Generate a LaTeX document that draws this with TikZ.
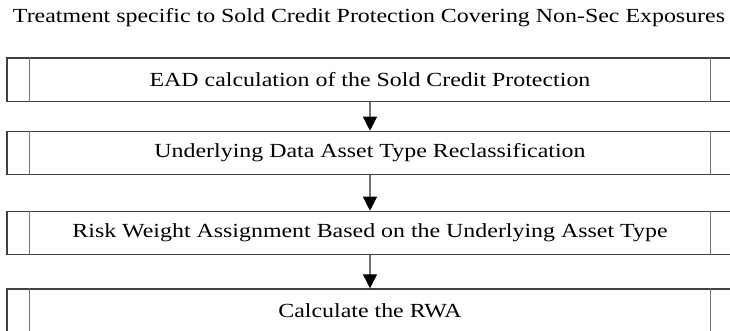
\documentclass[tikz,border=0pt]{standalone}
\usepackage{fontspec}
\setmainfont[FakeStretch=1.195]{Liberation Serif}
\usetikzlibrary{arrows.meta}
\begin{document}
\begin{tikzpicture}[x=1pt,y=-1pt,
  procbox/.style={draw=black!75, line width=1.2pt, minimum width=726pt, minimum height=43.5pt, inner sep=0pt, anchor=north, font=\fontsize{20}{24}\selectfont},
  sideline/.style={draw=black!55, line width=1.2pt},
  flow/.style={draw=black!55, line width=1.2pt, -{Triangle[width=14pt,length=14pt,fill=black,color=black]}},
]
\useasboundingbox (0,0) rectangle (730,330);
\clip (0,0) rectangle (730,330);
\node[font=\fontsize{20}{24}\selectfont, anchor=base] (title) at (369,22.5) {Treatment specific to Sold Credit Protection Covering Non-Sec Exposures};
\node[procbox] (b1) at (370,57.3) {EAD calculation of the Sold Credit Protection};
\node[procbox] (b2) at (370,130.7) {Underlying Data Asset Type Reclassification};
\node[procbox] (b3) at (370,210.7) {Risk Weight Assignment Based on the Underlying Asset Type};
\node[procbox] (b4) at (370,288.3) {Calculate the RWA};
\foreach \b in {b1,b2,b3,b4}{
  \draw[sideline] ([xshift=23pt]\b.north west) -- ([xshift=23pt]\b.south west);
  \draw[sideline] ([xshift=-23pt]\b.north east) -- ([xshift=-23pt]\b.south east);
}
\draw[flow] (b1.south) -- (b2.north);
\draw[flow] (b2.south) -- (b3.north);
\draw[flow] (b3.south) -- (b4.north);
\end{tikzpicture}
\end{document}
